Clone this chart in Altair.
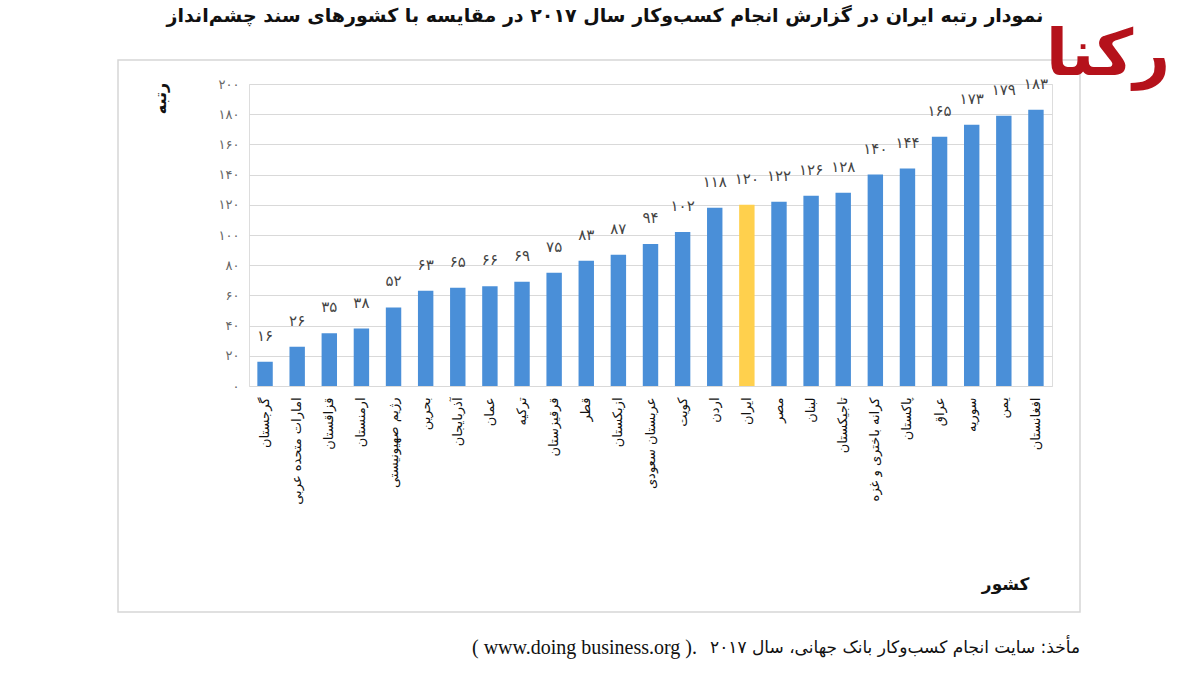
import altair as alt
import pandas as pd

countries = [
    "گرجستان", "امارات متحده عربی", "قزاقستان", "ارمنستان", "رژیم صهیونیستی",
    "بحرین", "آذربایجان", "عمان", "ترکیه", "قرقیزستان", "قطر", "ازبکستان",
    "عربستان سعودی", "کویت", "اردن", "ایران", "مصر", "لبنان", "تاجیکستان",
    "کرانه باختری و غزه", "پاکستان", "عراق", "سوریه", "یمن", "افغانستان",
]
ranks = [16, 26, 35, 38, 52, 63, 65, 66, 69, 75, 83, 87, 94, 102, 118, 120,
         122, 126, 128, 140, 144, 165, 173, 179, 183]
highlight = "ایران"

title_text = "نمودار رتبه ایران در گزارش انجام کسب‌وکار سال ۲۰۱۷ در مقایسه با کشورهای سند چشم‌انداز"
source_fa = "مأخذ: سایت انجام کسب‌وکار بانک جهانی، سال ۲۰۱۷"
source_en = "( www.doing business.org )."
y_title = "رتبه"
x_title = "کشور"
logo_text = "رکنا"

FA = str.maketrans("0123456789", "۰۱۲۳۴۵۶۷۸۹")
df = pd.DataFrame({
    "country": countries,
    "rank": ranks,
    "label": [str(v).translate(FA) for v in ranks],
    "hl": ["yes" if c == highlight else "no" for c in countries],
})

FONT = "DejaVu Sans"

fa_expr = "datum.label"
for d, p in zip("0123456789", "۰۱۲۳۴۵۶۷۸۹"):
    fa_expr = f"replace({fa_expr}, regexp('{d}', 'g'), '{p}')"

x_enc = alt.X(
    "country:N", sort=countries,
    scale=alt.Scale(paddingInner=0.52, paddingOuter=0.26),
    axis=alt.Axis(
        title=x_title, labelAngle=270, labelFont=FONT, labelFontSize=13,
        labelColor="#111111", labelPadding=11, labelLimit=300,
        domain=False, ticks=False, titleFont=FONT, titleFontSize=17,
        titleFontWeight="bold", titleColor="#111111", titleAnchor="end",
        titleY=190, titleX=780,
    ),
)
y_enc = alt.Y(
    "rank:Q", scale=alt.Scale(domain=[0, 200]),
    axis=alt.Axis(
        title=y_title, values=list(range(0, 201, 20)), labelExpr=fa_expr,
        labelOverlap=False, labelFont=FONT, labelFontSize=13,
        labelColor="#666666", labelPadding=10,
        domain=False, ticks=False, grid=True, gridColor="#d9d9d9",
        titleFont=FONT, titleFontSize=16, titleFontWeight="bold",
        titleColor="#111111", titleAngle=270, titleX=-89, titleY=14,
        titleAlign="center", titleBaseline="middle",
    ),
)

base = alt.Chart(df)
bars = base.mark_bar().encode(
    x=x_enc, y=y_enc,
    color=alt.Color("hl:N", scale=alt.Scale(domain=["no", "yes"],
                                            range=["#4a8fd8", "#ffd04d"]),
                    legend=None),
)
vals = base.mark_text(font=FONT, fontSize=15, color="#444444",
                      baseline="bottom", dy=-18).encode(
    x=x_enc, y=y_enc, text="label:N")

one = alt.Data(values=[{}])
frame = alt.Chart(one).mark_rect(fill="transparent", stroke="#d6d6d6",
                                 strokeWidth=1.5).encode(
    x=alt.value(-131), x2=alt.value(831), y=alt.value(-24), y2=alt.value(528))
title = alt.Chart(one).mark_text(text=title_text, font=FONT, fontSize=19,
                                 fontWeight="bold", color="#111111",
                                 align="center", baseline="middle").encode(
    x=alt.value(356), y=alt.value(-68))
src1 = alt.Chart(one).mark_text(text=source_fa, font=FONT, fontSize=17,
                                color="#111111", align="right",
                                baseline="middle").encode(
    x=alt.value(831), y=alt.value(564))
src2 = alt.Chart(one).mark_text(text=source_en, font="Liberation Serif",
                                fontSize=20, color="#111111", align="right",
                                baseline="middle").encode(
    x=alt.value(448), y=alt.value(564))
logo = alt.Chart(one).mark_text(text=logo_text, font=FONT, fontSize=64,
                                fontWeight="bold", color="#b5121b",
                                align="center", baseline="middle").encode(
    x=alt.value(859), y=alt.value(-28))

chart = alt.layer(frame, bars, vals, title, src1, src2, logo).properties(
    width=803, height=302,
    autosize=alt.AutoSizeParams(type="none"),
    padding={"left": 249, "top": 84, "right": 148, "bottom": 287},
).configure_view(stroke=None).configure(background="white")

chart.save("out.html", embed_options={"renderer": "svg", "actions": False})
